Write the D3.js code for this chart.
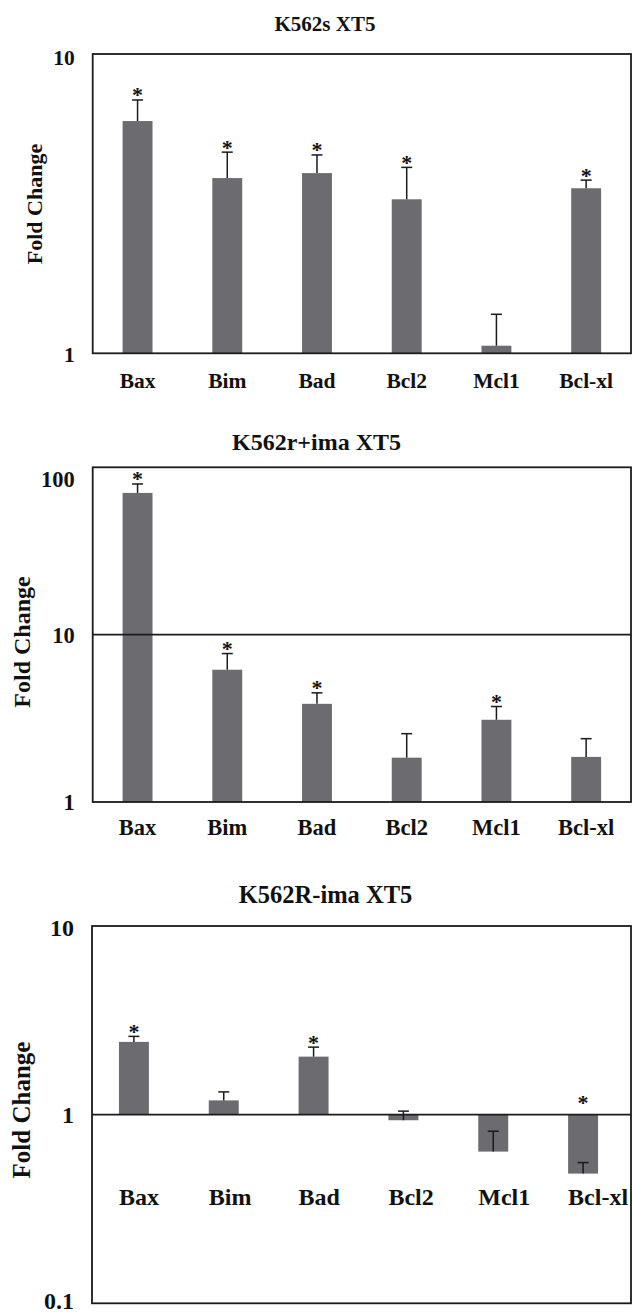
<!DOCTYPE html>
<html>
<head>
<meta charset="utf-8">
<script src="https://cdn.jsdelivr.net/npm/d3@7"></script>
<style>
  html, body { margin: 0; padding: 0; background: #fff; }
  svg text { font-family: "Liberation Serif", "Times New Roman", serif; font-weight: bold; fill: #111; }
</style>
</head>
<body>
<div id="grafico"></div>
<script>
/**************************************************
 * Data
***************************************************/
const genes = ["Bax", "Bim", "Bad", "Bcl2", "Mcl1", "Bcl-xl"];

// K562s XT5
const k562sFold = [5.97, 3.85, 4.0, 3.27, 1.06, 3.56];
const k562sErr = [1.05, 0.85, 0.60, 0.91, 0.29, 0.23];
const k562sSig = [true, true, true, true, false, true];
const k562sTicks = [1, 10];

// K562r+ima XT5
const k562rImaFold = [70.3, 6.17, 3.86, 1.84, 3.10, 1.86];
const k562rImaErr = [9.2, 1.54, 0.63, 0.72, 0.62, 0.53];
const k562rImaSig = [true, true, true, false, true, false];
const k562rImaTicks = [1, 10, 100];

// K562R-ima XT5
const k562RnoImaFold = [2.43, 1.19, 2.03, 0.934, 0.637, 0.487];
const k562RnoImaErr = [0.17, 0.13, 0.25, 0.11, 0.18, 0.07];
const k562RnoImaSig = [true, false, true, false, false, true];
const k562RnoImaTicks = [0.1, 1, 10];

const titles = ["K562s XT5", "K562r+ima XT5", "K562R-ima XT5"];
const yTitle = "Fold Change";

/**************************************************
 * Layout (one entry per panel)
***************************************************/
const width = 632;
const height = 1315;
const barColor = "#6b6b70";
const lineColor = "#1b1b1b";

const panels = [
  { title: titles[0], fold: k562sFold, err: k562sErr, sig: k562sSig, ticks: k562sTicks,
    domain: [1, 10], base: 1, gridAt: null,
    top: 54, bottom: 353.3, left: 92.7, right: 631, shift: 0,
    titleX: 325, titleY: 31, titleSize: 21, font: 21.5,
    labelY: 388, labelAnchor: "middle", yTitleX: 34, yTitleY: 204, yTitleSize: 22,
    topShift: 3, bottomShift: 1 },
  { title: titles[1], fold: k562rImaFold, err: k562rImaErr, sig: k562rImaSig, ticks: k562rImaTicks,
    domain: [1, 100], base: 1, gridAt: 10,
    top: 467.3, bottom: 802, left: 92.7, right: 631, shift: 0,
    titleX: 316.5, titleY: 450, titleSize: 24, font: 22.5,
    labelY: 835, labelAnchor: "middle", yTitleX: 22, yTitleY: 642, yTitleSize: 24,
    topShift: 12, bottomShift: 0 },
  { title: titles[2], fold: k562RnoImaFold, err: k562RnoImaErr, sig: k562RnoImaSig, ticks: k562RnoImaTicks,
    domain: [0.1, 10], base: 1, gridAt: 1,
    top: 926, bottom: 1303.3, left: 92, right: 631, shift: -3,
    titleX: 325.5, titleY: 903, titleSize: 24.5, font: 24,
    labelY: 1205, labelAnchor: "start", yTitleX: 21, yTitleY: 1110, yTitleSize: 25,
    topShift: 1, bottomShift: -3 }
];

/**************************************************
 * SVG Element
***************************************************/
const svg = d3.select("#grafico")
  .append("svg")
  .attr("width", width)
  .attr("height", height)
  .style("display", "block")
  .style("background", "#fff");

const dibujarPanel = (p) => {
  const g = svg.append("g");

  // Scales
  const xScale = d3.scaleBand()
    .domain(genes)
    .range([p.left + p.shift, p.right + p.shift])
    .paddingInner(2 / 3)
    .paddingOuter(1 / 3);

  const yScale = d3.scaleLog()
    .domain(p.domain)
    .range([p.bottom, p.top]);

  const datos = genes.map((gen, i) => ({
    gen: gen, v: p.fold[i], e: p.err[i], sig: p.sig[i]
  }));
  const centro = (d) => xScale(d.gen) + xScale.bandwidth() / 2;

  // Title
  g.append("text")
    .attr("x", p.titleX)
    .attr("y", p.titleY)
    .attr("text-anchor", "middle")
    .style("font-size", p.titleSize + "px")
    .text(p.title);

  // Y axis title
  g.append("text")
    .attr("transform", `translate(${p.yTitleX},${p.yTitleY}) rotate(-90)`)
    .attr("text-anchor", "middle")
    .attr("dy", "0.35em")
    .style("font-size", p.yTitleSize + "px")
    .text(yTitle);

  // Y axis (labels only)
  const yAxis = d3.axisLeft(yScale)
    .tickValues(p.ticks)
    .tickFormat(d3.format("~g"))
    .tickSize(0)
    .tickPadding(18);

  const ejeY = g.append("g")
    .attr("transform", `translate(${p.left},0)`)
    .call(yAxis);
  ejeY.select(".domain").remove();
  ejeY.selectAll("text")
    .attr("dy", "0.34em")
    .attr("transform", (d) => {
      if (d === p.domain[1]) return `translate(0,${p.topShift})`;
      if (d === p.domain[0]) return `translate(0,${p.bottomShift})`;
      return null;
    })
    .style("font-size", p.font + "px")
    .style("font-family", "'Liberation Serif', 'Times New Roman', serif")
    .style("font-weight", "bold")
    .attr("fill", "#111");

  // Bars
  g.selectAll("rect.bar")
    .data(datos)
    .enter()
    .append("rect")
    .attr("class", "bar")
    .attr("x", (d) => xScale(d.gen))
    .attr("width", xScale.bandwidth())
    .attr("y", (d) => Math.min(yScale(d.v), yScale(p.base)))
    .attr("height", (d) => Math.abs(yScale(d.v) - yScale(p.base)))
    .attr("fill", barColor);

  // Error bars (plus direction)
  const capW = 11;
  const err = g.selectAll("g.err")
    .data(datos)
    .enter()
    .append("g")
    .attr("class", "err")
    .attr("stroke", lineColor)
    .attr("stroke-width", 1.5);

  err.append("line")
    .attr("x1", centro)
    .attr("x2", centro)
    .attr("y1", (d) => yScale(d.v))
    .attr("y2", (d) => yScale(d.v + d.e));

  err.append("line")
    .attr("x1", (d) => centro(d) - capW / 2)
    .attr("x2", (d) => centro(d) + capW / 2)
    .attr("y1", (d) => yScale(d.v + d.e))
    .attr("y2", (d) => yScale(d.v + d.e));

  // Significance stars (centre ~8px above the cap, or above the base line for bars hanging down)
  g.selectAll("text.star")
    .data(datos.filter((d) => d.sig))
    .enter()
    .append("text")
    .attr("class", "star")
    .attr("x", centro)
    .attr("y", (d) => d.v < p.base
      ? yScale(p.base) - 15.5 + 10.5
      : yScale(d.v + d.e) - 8 + 10.5)
    .attr("text-anchor", "middle")
    .style("font-size", "22px")
    .text("*");

  // Gridline / axis crossing line
  if (p.gridAt !== null) {
    g.append("line")
      .attr("x1", p.left)
      .attr("x2", p.right)
      .attr("y1", yScale(p.gridAt))
      .attr("y2", yScale(p.gridAt))
      .attr("stroke", lineColor)
      .attr("stroke-width", 1.8);
  }

  // Frame
  g.append("rect")
    .attr("x", p.left)
    .attr("y", p.top)
    .attr("width", p.right - p.left)
    .attr("height", p.bottom - p.top)
    .attr("fill", "none")
    .attr("stroke", lineColor)
    .attr("stroke-width", 1.8);

  // Category labels
  g.selectAll("text.cat")
    .data(genes)
    .enter()
    .append("text")
    .attr("class", "cat")
    .attr("x", (d) => p.labelAnchor === "start" ? xScale(d) : xScale(d) + xScale.bandwidth() / 2)
    .attr("y", p.labelY)
    .attr("text-anchor", p.labelAnchor)
    .style("font-size", p.font + "px")
    .text((d) => d);
};

panels.forEach(dibujarPanel);
</script>
</body>
</html>
